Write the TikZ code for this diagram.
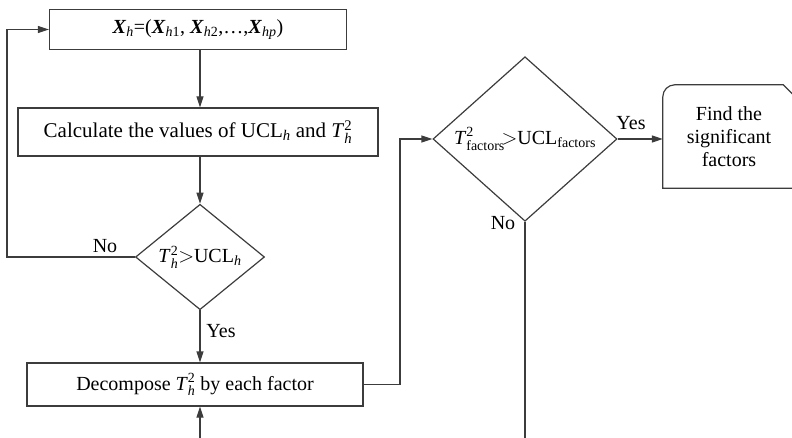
\documentclass[tikz,border=0pt]{standalone}
\usepackage{amsmath}
\usepackage{fontspec}
\setmainfont{Liberation Serif}
\usetikzlibrary{shapes.geometric,arrows.meta,calc}
\definecolor{ln}{HTML}{3C3C3C}
\newcommand{\Thsq}{\textit{T}$^{\text{2}}_{\text{\textit{h}}}$}
\tikzset{
  base/.style={font=\fontsize{20}{23}\selectfont, text=black},
  procbox/.style={base, draw=ln, line width=1.2pt, inner sep=0pt, minimum width=#1},
  decision/.style={base, draw=ln, line width=1.2pt, diamond, inner sep=0pt},
  lab/.style={base},
  flow/.style={draw=ln, line width=1.2pt, -{Triangle[length=11pt,width=7pt]}},
  plain/.style={draw=ln, line width=1.2pt},
}
\begin{document}
\begin{tikzpicture}[x=1pt,y=-1pt]
\clip (0,0) rectangle (792,438);
\node[procbox=297pt, minimum height=40pt] (b1) at (198,29.5)
  {\textbf{\textit{X}}$_{\text{\textit{h}}}$=(\textbf{\textit{X}}$_{\text{\textit{h}1}}$, \textbf{\textit{X}}$_{\text{\textit{h}2}}$,\ldots,\textbf{\textit{X}}$_{\text{\textit{hp}}}$)};
\node[procbox=360pt, minimum height=48pt] (b2) at (198,132)
  {\fontsize{21}{23}\selectfont Calculate the values of UCL$_{\text{\textit{h}}}$ and \Thsq};
\node[decision, minimum width=129pt, minimum height=94pt] (d1) at (200,257)
  {\Thsq{$>$}UCL$_{\text{\textit{h}}}$};
\node[procbox=336pt, minimum height=43pt] (b3) at (195,384.5)
  {Decompose \Thsq\ by each factor};
\node[decision, minimum width=184pt, minimum height=136pt] (d2) at (525,139)
  {\textit{T}$^{\text{2}}_{\text{factors}}$\!{$>$}UCL$_{\text{factors}}$};
\node[base, align=center, minimum width=132pt, minimum height=103pt, inner sep=0pt] (f) at (729,136.5)
  {Find the\\significant\\factors};
\draw[plain] (f.south east) -- (f.south west) -- ($(f.north west)+(0,12)$)
  arc[start angle=180, end angle=90, radius=12pt] -- ($(f.north east)+(-12,0)$) -- ($(f.north east)+(4,16)$);

\coordinate (lc) at (7,0);
\coordinate (rc) at (400,0);
\coordinate (bot1) at (200,445);
\coordinate (bot2) at (525,445);

\draw[flow] (b1.south -| d1) -- (b2.north -| d1);
\draw[flow] (b2.south -| d1) -- (d1.north);
\draw[flow] (d1.south) -- (b3.north -| d1);
\draw[flow] (d1.west) -- (d1.west -| lc) |- (b1.west);
\draw[flow] (bot1) -- (b3.south -| bot1);
\draw[flow] (b3.east) -- (b3.east -| rc) |- (d2.west);
\draw[flow] (d2.east) -- (d2.east -| f.west);
\draw[plain] (d2.south) -- (bot2);

\node[lab] (no1) at (105,246) {No};
\node[lab] (yes1) at (221,331) {Yes};
\node[lab] (yes2) at (631,123) {Yes};
\node[lab] (no2) at (503,223) {No};
\end{tikzpicture}
\end{document}
